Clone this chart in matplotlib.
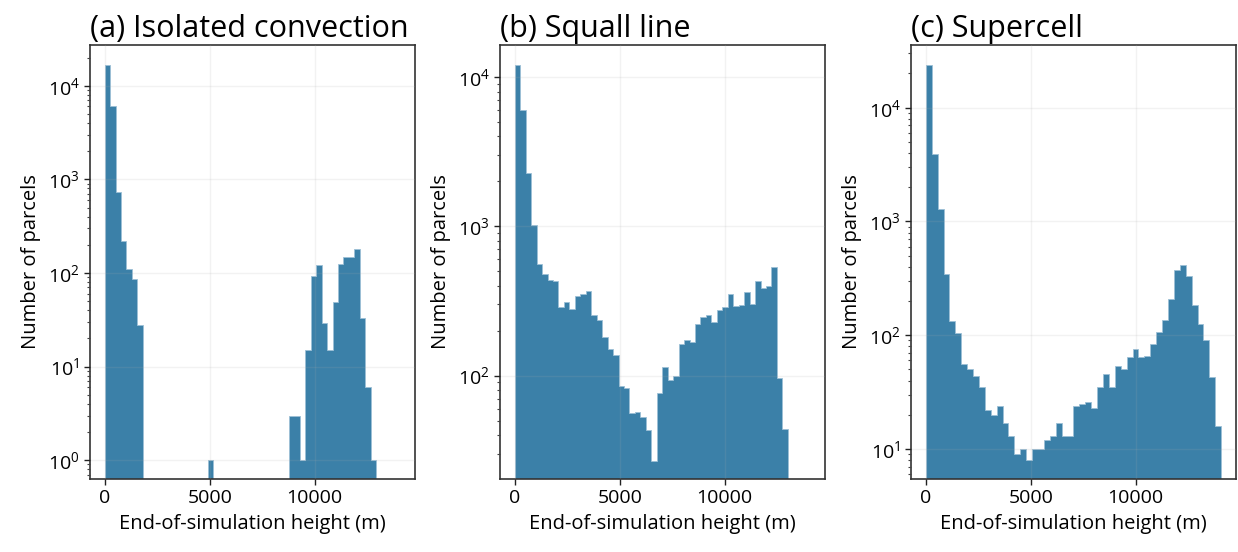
import numpy as np
import matplotlib
matplotlib.use("Agg")
import matplotlib.pyplot as plt

plt.rcParams['font.family'] = ['Open Sans', 'DejaVu Sans']
plt.rcParams['mathtext.fontset'] = 'custom'
plt.rcParams['mathtext.rm'] = 'Open Sans'
plt.rcParams['mathtext.it'] = 'Open Sans'

titles = ["(a) Isolated convection", "(b) Squall line", "(c) Supercell"]
xlabel = "End-of-simulation height (m)"
ylabel = "Number of parcels"

# 50 equal bins from 0 to the max height of each case
max_height = [12920, 13010, 14074]

counts_a = [16750, 6110, 726, 218, 110, 87, 28, 0, 0, 0,
            0, 0, 0, 0, 0, 0, 0, 0, 0, 1,
            0, 0, 0, 0, 0, 0, 0, 0, 0, 0,
            0, 0, 0, 0, 3, 3, 1, 15, 93, 122,
            29, 15, 49, 124, 149, 149, 180, 33, 6, 1]
counts_b = [12100, 6010, 2265, 1020, 557, 478, 440, 428, 288, 310,
            281, 340, 352, 369, 255, 236, 182, 151, 138, 85,
            82, 56, 57, 53, 43, 27, 76, 114, 94, 100,
            162, 173, 167, 221, 248, 255, 228, 275, 290, 352,
            291, 299, 363, 302, 430, 388, 398, 537, 97, 44]
counts_c = [23900, 3920, 1277, 343, 133, 105, 56, 50, 44, 35,
            22, 20, 24, 17, 13, 9, 10, 8, 10, 10,
            12, 13, 17, 13, 13, 24, 25, 26, 23, 35,
            46, 35, 54, 51, 64, 75, 64, 66, 83, 107,
            135, 209, 374, 411, 331, 183, 125, 91, 43, 16]
all_counts = [counts_a, counts_b, counts_c]

ylims = [(0.63, 27200), (20.3, 16400), (5.45, 35600)]

fig = plt.figure(figsize=(12.38, 5.52), dpi=100)
lefts = [90, 500, 911]
axes = []
for i in range(3):
    ax = fig.add_axes([lefts[i] / 1238, 73 / 552, 325 / 1238, 434 / 552])
    axes.append(ax)

bar_color = '#3b80a8'
for i, ax in enumerate(axes):
    edges = np.linspace(0, max_height[i], 51)
    counts = np.array(all_counts[i], dtype=float)
    centers = 0.5 * (edges[:-1] + edges[1:])
    ax.hist(centers, bins=edges, weights=counts, histtype='stepfilled',
            facecolor=bar_color, edgecolor='#9dc0d6', linewidth=0.6)
    ax.set_yscale('log')
    ax.set_ylim(ylims[i])
    ax.set_xlim(-704, 14779)
    ax.set_xticks([0, 5000, 10000])
    ax.set_axisbelow(False)
    ax.grid(True, which='major', color='#aaaaaa', alpha=0.15, linewidth=1)
    ax.set_title(titles[i], loc='left', fontsize=22, pad=6)
    ax.set_xlabel(xlabel, fontsize=14.5, labelpad=5)
    ax.set_ylabel(ylabel, fontsize=14.5, labelpad=5)
    ax.tick_params(axis='both', which='major', labelsize=14, length=4, width=1, color='#222222')
    ax.tick_params(axis='y', which='minor', length=2.5, width=0.8, color='#444444')
    for sp in ax.spines.values():
        sp.set_color('#333333')
        sp.set_linewidth(1.2)

fig.savefig("out.png", dpi=100)
